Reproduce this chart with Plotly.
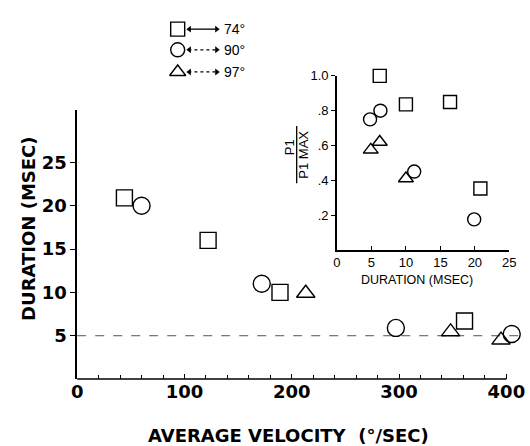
import plotly.graph_objects as go

W, H = 530, 446

# ---------------- data ----------------
# main panel: average velocity (deg/sec) vs duration (msec)
sq_vel = [44, 122, 189, 361]
sq_dur = [20.9, 16.0, 10.0, 6.7]
ci_vel = [60, 172, 297, 405]
ci_dur = [20.0, 11.0, 5.9, 5.2]
tr_vel = [213, 348, 395]
tr_dur = [9.9, 5.45, 4.5]
ref_duration = 5

# inset: duration (msec) vs P1 / P1 max
in_sq_dur = [6.2, 10.0, 16.4, 20.8]
in_sq_p = [1.0, 0.836, 0.85, 0.353]
in_ci_dur = [4.8, 6.3, 11.2, 19.9]
in_ci_p = [0.75, 0.80, 0.45, 0.175]
in_tr_dur = [4.9, 6.2, 10.0]
in_tr_p = [0.575, 0.62, 0.41]

legend_labels = ["74°", "90°", "97°"]
main_xticks = [0, 100, 200, 300, 400]
main_yticks = [5, 10, 15, 20, 25]
in_xticks = [0, 5, 10, 15, 20, 25]
in_yticks = [0.2, 0.4, 0.6, 0.8, 1.0]
in_yticktext = [".2", ".4", ".6", ".8", "1.0"]

# ---------------- layout helpers ----------------
def px_x(p):
    return p / W

def px_y(p):
    return 1 - p / H

BOLD = dict(family="DejaVu Sans", size=18, color="black", weight="bold")
REG = dict(family="Liberation Sans", size=13, color="black")

main_xrange = [0, 415.5]
main_x_dom = [px_x(73), 1.0]
main_y_dom = [px_y(378), px_y(105)]
main_yrange = [0, 31]
in_x_dom = [px_x(339.3), px_x(516)]
in_y_dom = [px_y(246.7), px_y(70)]

fig = go.Figure()

def add(xs, ys, sym, size, xa, ya):
    fig.add_trace(go.Scatter(
        x=xs, y=ys, mode="markers", xaxis=xa, yaxis=ya, cliponaxis=False,
        marker=dict(symbol=sym, size=size, color="black", line=dict(color="black", width=1.4)),
        showlegend=False, hoverinfo="skip"))

add(sq_vel, sq_dur, "square-open", 16, "x", "y")
add(ci_vel, ci_dur, "circle-open", 17, "x", "y")
add(tr_vel, tr_dur, "triangle-up-open", 16, "x", "y")

add(in_sq_dur, in_sq_p, "square-open", 13, "x2", "y2")
add(in_ci_dur, in_ci_p, "circle-open", 13, "x2", "y2")
add(in_tr_dur, in_tr_p, "triangle-up-open", 13, "x2", "y2")

# ---------------- legend drawn on a full-figure pixel axis ----------------
rows_y = [22.5, 43.5, 66]
syms = ["square-open", "circle-open", "triangle-up-open"]
dashes = ["solid", "dot", "dot"]
for yy, sym, lab, dsh in zip(rows_y, syms, legend_labels, dashes):
    fig.add_trace(go.Scatter(x=[176], y=[yy], mode="markers", xaxis="x3", yaxis="y3",
                             cliponaxis=False,
                             marker=dict(symbol=sym, size=14, color="black",
                                         line=dict(color="black", width=1.4)),
                             showlegend=False, hoverinfo="skip"))
    fig.add_trace(go.Scatter(x=[187, 216], y=[yy, yy], mode="lines", xaxis="x3", yaxis="y3",
                             line=dict(color="black", width=1.3, dash=dsh),
                             showlegend=False, hoverinfo="skip"))
    fig.add_trace(go.Scatter(x=[188, 216], y=[yy, yy], mode="markers", xaxis="x3", yaxis="y3",
                             marker=dict(symbol=["triangle-left", "triangle-right"], size=6, color="black"),
                             showlegend=False, hoverinfo="skip"))
    fig.add_annotation(x=px_x(221), y=px_y(yy), xref="paper", yref="paper",
                       text=lab, showarrow=False, xanchor="left", yanchor="middle",
                       font=dict(family="Liberation Sans", size=14, color="black"))

# ---------------- main x axis line (ends at last labelled tick) ----------------
x_end = main_x_dom[0] + (main_xticks[-1] - main_xrange[0]) / (main_xrange[1] - main_xrange[0]) * (main_x_dom[1] - main_x_dom[0])
fig.add_shape(type="line", xref="paper", yref="paper", x0=main_x_dom[0], x1=x_end,
              y0=main_y_dom[0], y1=main_y_dom[0], line=dict(color="black", width=1.6))

# ---------------- reference dashed line at 5 msec ----------------
y5 = main_y_dom[0] + (ref_duration - main_yrange[0]) / (main_yrange[1] - main_yrange[0]) * (main_y_dom[1] - main_y_dom[0])
fig.add_shape(type="line", xref="paper", yref="paper", x0=main_x_dom[0], x1=1.0, y0=y5, y1=y5,
              line=dict(color="#555", width=1, dash="dash"), layer="below")

# ---------------- titles ----------------
fig.add_annotation(x=px_x(290), y=px_y(435), xref="paper", yref="paper",
                   text="AVERAGE VELOCITY  (°/SEC)", showarrow=False,
                   xanchor="center", yanchor="middle", font=BOLD)
fig.add_annotation(x=px_x(23), y=px_y(225), xref="paper", yref="paper",
                   text="DURATION (MSEC)", showarrow=False, textangle=-90,
                   xanchor="center", yanchor="middle", font=BOLD)
fig.add_annotation(x=px_x(421), y=px_y(277), xref="paper", yref="paper",
                   text="DURATION (MSEC)", showarrow=False,
                   xanchor="center", yanchor="middle", font=dict(family="Liberation Sans", size=12.5, color="black"))
# inset y title as a fraction
fig.add_annotation(x=px_x(290.5), y=px_y(142), xref="paper", yref="paper",
                   text="P1", showarrow=False, textangle=-90,
                   xanchor="center", yanchor="middle", font=REG)
fig.add_annotation(x=px_x(305.5), y=px_y(150), xref="paper", yref="paper",
                   text="P1 MAX", showarrow=False, textangle=-90,
                   xanchor="center", yanchor="middle", font=REG)
fig.add_shape(type="line", xref="paper", yref="paper", x0=px_x(298), x1=px_x(298),
              y0=px_y(121), y1=px_y(179), line=dict(color="black", width=1.3))

axline = dict(showline=True, linecolor="black", linewidth=1.6, showgrid=False, zeroline=False)

fig.update_layout(
    width=W, height=H, margin=dict(l=0, r=0, t=0, b=0),
    paper_bgcolor="white", plot_bgcolor="rgba(0,0,0,0)", showlegend=False,
    xaxis=dict(domain=main_x_dom, range=main_xrange, anchor="y", tickmode="array",
               tickvals=main_xticks, ticks="inside", ticklen=5, tickcolor="black", tickwidth=1.3,
               minor=dict(tickmode="linear", tick0=0, dtick=20, ticks="inside", ticklen=4, tickcolor="black"),
               tickfont=BOLD, ticklabelstandoff=0,
               showline=False, showgrid=False, zeroline=False),
    yaxis=dict(domain=main_y_dom, range=main_yrange, anchor="x", tickmode="array",
               tickvals=main_yticks, ticks="outside", ticklen=5, tickcolor="black", tickwidth=1.3,
               tickfont=BOLD, ticklabelstandoff=0, **axline),
    xaxis2=dict(domain=in_x_dom, range=[0, 25], anchor="y2", tickmode="array",
                tickvals=in_xticks, ticks="inside", ticklen=4, tickcolor="black",
                tickfont=REG, **axline),
    yaxis2=dict(domain=in_y_dom, range=[0, 1.0], anchor="x2", tickmode="array",
                tickvals=in_yticks, ticktext=in_yticktext, ticks="outside", ticklen=4,
                tickcolor="black", tickfont=REG, **axline),
    xaxis3=dict(domain=[0, 1], range=[0, W], anchor="y3", visible=False, fixedrange=True),
    yaxis3=dict(domain=[0, 1], range=[H, 0], anchor="x3", visible=False, fixedrange=True),
)

fig.write_html("out.html")
